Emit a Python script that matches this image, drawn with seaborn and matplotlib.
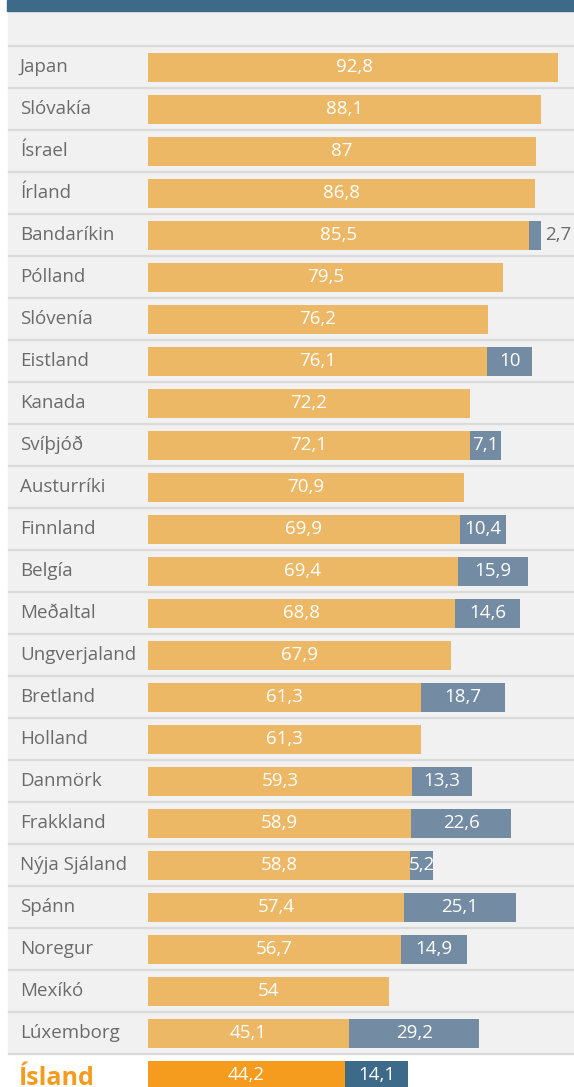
import numpy as np
import pandas as pd
import matplotlib
matplotlib.use("Agg")
import matplotlib.pyplot as plt
import seaborn as sns

# Data
countries = ["Japan", "Slóvakía", "Ísrael", "Írland", "Bandaríkin", "Pólland",
             "Slóvenía", "Eistland", "Kanada", "Svíþjóð", "Austurríki", "Finnland",
             "Belgía", "Meðaltal", "Ungverjaland", "Bretland", "Holland", "Danmörk",
             "Frakkland", "Nýja Sjáland", "Spánn", "Noregur", "Mexíkó", "Lúxemborg",
             "Ísland"]
share_main = [92.8, 88.1, 87, 86.8, 85.5, 79.5, 76.2, 76.1, 72.2, 72.1, 70.9, 69.9,
              69.4, 68.8, 67.9, 61.3, 61.3, 59.3, 58.9, 58.8, 57.4, 56.7, 54, 45.1, 44.2]
share_extra = [np.nan, np.nan, np.nan, np.nan, 2.7, np.nan, np.nan, 10, np.nan, 7.1,
               np.nan, 10.4, 15.9, 14.6, np.nan, 18.7, np.nan, 13.3, 22.6, 5.2, 25.1,
               14.9, np.nan, 29.2, 14.1]
highlight = "Ísland"

# Colours
c_main = "#EDB866"
c_extra = "#738BA3"
c_main_hi = "#F59C1E"
c_extra_hi = "#3E6A8A"
c_panel = "#F1F1F1"
c_sep = "#DADADA"
c_text = "#6B6B6B"

df = pd.DataFrame({"land": countries, "main": share_main, "extra": share_extra})

W, H = 574, 1087
plot_right = 558  # bars are cut off here (Japan)
fig = plt.figure(figsize=(W / 100, H / 100), dpi=100)
plt.rcParams["font.family"] = ["Open Sans", "DejaVu Sans"]

# pixel geometry -> data units
x0_px, px_per_unit = 148, 4.46
y0_px, row_px = 67, 42
bar_h = 29 / row_px
ylim = ((H - y0_px) / row_px, -y0_px / row_px)

def row_of(px):
    return (px - y0_px) / row_px

# background axes: panel, top band, separators
bg = fig.add_axes([0, 0, 1, 1])
bg.set_xlim(0, W)
bg.set_ylim(*ylim)
bg.axis("off")
bg.axhspan(row_of(10), row_of(1054), xmin=8 / W, xmax=1, color=c_panel, zorder=0)
bg.axhspan(row_of(0), row_of(11), xmin=7 / W, xmax=1, color=c_extra_hi, zorder=1)
for k in range(len(countries)):
    bg.axhline(k - 0.5, xmin=9 / W, xmax=1, color=c_sep, lw=1.6, zorder=1)

# bar axes
ax = fig.add_axes([0, 0, plot_right / W, 1])
ax.patch.set_alpha(0)
palette = {c: (c_main_hi if c == highlight else c_main) for c in countries}
sns.barplot(data=df, x="main", y="land", hue="land", palette=palette, orient="h",
            width=bar_h, legend=False, saturation=1, ax=ax, zorder=3)

ypos = np.arange(len(countries))
extra = df["extra"].to_numpy()
has = ~np.isnan(extra)
ax.barh(ypos[has], extra[has], left=df["main"].to_numpy()[has], height=bar_h,
        color=[c_extra_hi if c == highlight else c_extra for c in df["land"][has]],
        zorder=3)

ax.set_xlim(-x0_px / px_per_unit, (plot_right - x0_px) / px_per_unit)
ax.set_ylim(*ylim)
ax.axis("off")

fmt = lambda v: f"{v:g}".replace(".", ",")
lab_tr = ax.get_yaxis_transform()
for i, row in df.iterrows():
    if row["land"] == highlight:
        ax.text(19 / plot_right, i + 0.08, row["land"], transform=lab_tr, ha="left",
                va="center", fontsize=18, fontweight="bold", color=c_main_hi)
    else:
        ax.text(20 / plot_right, i, row["land"], transform=lab_tr, ha="left",
                va="center", fontsize=13.5, color=c_text)
    ax.text(row["main"] / 2, i, fmt(row["main"]), ha="center", va="center",
            fontsize=13.5, color="white", zorder=4)
    if not np.isnan(row["extra"]):
        if row["extra"] < 4:
            ax.text(row["main"] + row["extra"] + 0.8, i, fmt(row["extra"]), ha="left",
                    va="center", fontsize=13.5, color=c_text, zorder=4)
        else:
            ax.text(row["main"] + row["extra"] / 2, i, fmt(row["extra"]), ha="center",
                    va="center", fontsize=13.5, color="white", zorder=4)

fig.savefig("out.png", dpi=100, facecolor="white")
